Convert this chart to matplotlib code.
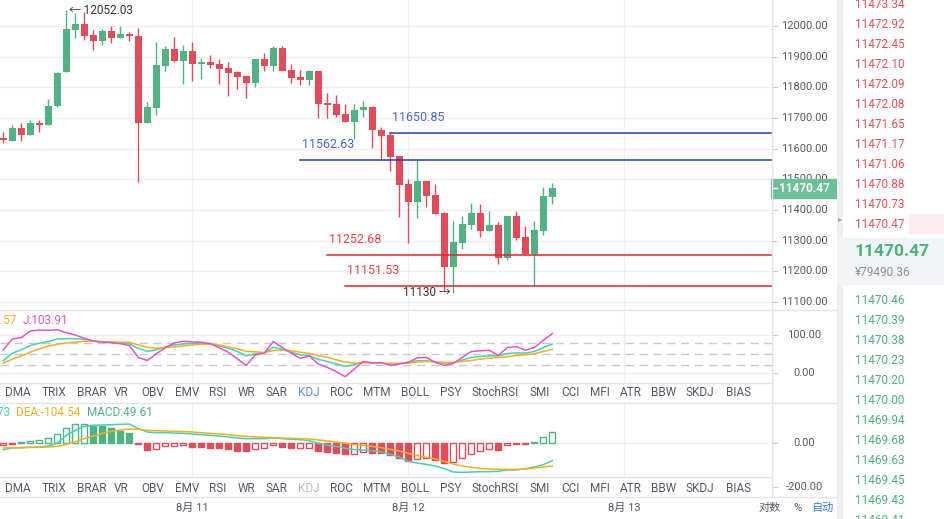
import numpy as np
import matplotlib
matplotlib.use("Agg")
import matplotlib.pyplot as plt
import matplotlib.transforms as mtransforms
from matplotlib.patches import Rectangle

plt.rcParams["font.family"] = ["Roboto", "Noto Sans CJK SC", "DejaVu Sans"]

# hourly candles
opens = [11636, 11626, 11667, 11645, 11683, 11678, 11738, 11849, 11988, 12006,
         11971, 11952, 11984, 11962, 11974, 11967, 11684, 11734, 11870, 11924,
         11887, 11918, 11877, 11882, 11876, 11863, 11850, 11837, 11815, 11892,
         11870, 11928, 11855, 11834, 11825, 11853, 11749, 11745, 11713, 11688,
         11726, 11736, 11661, 11643, 11576, 11484, 11427, 11495, 11448, 11390,
         11215, 11293, 11352, 11390, 11332, 11351, 11244, 11380, 11312, 11257,
         11332, 11443]
highs = [11655, 11676, 11683, 11692, 11693, 11762, 11850, 12052.03, 12043, 12045,
         11986, 11989, 12000, 12000, 11980, 11993, 11751, 11947, 11935, 11964,
         11937, 11949, 11896, 11905, 11892, 11882, 11854, 11837, 11892, 11911,
         11936, 11935, 11876, 11856, 11856, 11853, 11781, 11774, 11745, 11745,
         11754, 11738, 11670, 11650.85, 11576, 11500, 11562.63, 11495, 11485, 11392,
         11364, 11379, 11422, 11419, 11395, 11360, 11380, 11396, 11348, 11364,
         11476, 11489]
lows = [11617, 11624, 11626, 11645, 11653, 11678, 11737, 11849, 11962, 11954,
        11923, 11939, 11944, 11962, 11952, 11491, 11684, 11710, 11854, 11883,
        11810, 11821, 11828, 11864, 11812, 11773, 11793, 11766, 11802, 11854,
        11854, 11854, 11813, 11807, 11807, 11699, 11699, 11702, 11688, 11631,
        11702, 11601, 11563, 11526, 11376, 11291, 11372, 11408, 11387, 11135,
        11130, 11272, 11337, 11311, 11332, 11222, 11237, 11303, 11257, 11151.53,
        11317, 11418]
closes = [11627, 11667, 11645, 11682, 11678, 11738, 11848, 11990, 12006, 11968,
          11952, 11984, 11962, 11974, 11966, 11684, 11736, 11873, 11924, 11887,
          11918, 11877, 11882, 11874, 11861, 11848, 11835, 11815, 11892, 11870,
          11928, 11854, 11831, 11825, 11853, 11746, 11743, 11711, 11688, 11726,
          11735, 11660, 11642, 11573, 11482, 11427, 11495, 11446, 11387, 11215,
          11295, 11354, 11390, 11332, 11351, 11244, 11380, 11309, 11257, 11334,
          11445, 11470.47]

k_line = [32.2, 52.2, 60.9, 72.2, 78.3, 82.6, 89.6, 90.4, 90.4, 88.7,
          84.3, 81.7, 80.0, 78.3, 76.5, 65.2, 56.5, 60.9, 68.7, 73.9,
          76.5, 77.4, 78.3, 76.5, 71.3, 65.2, 56.5, 45.2, 50.4, 52.2,
          67.8, 62.6, 54.8, 47.8, 45.2, 35.7, 30.4, 23.5, 17.4, 21.7,
          28.7, 27.0, 26.1, 23.5, 25.2, 28.7, 32.2, 32.2, 28.7, 26.1,
          27.0, 33.9, 40.9, 43.5, 45.2, 45.2, 51.3, 53.0, 52.2, 56.5,
          67.0, 76.35]
d_line = [26.1, 36.5, 45.2, 54.8, 63.5, 71.3, 75.7, 79.1, 80.9, 83.5,
          83.5, 82.6, 81.7, 80.9, 80.9, 73.9, 67.8, 65.2, 67.0, 68.7,
          71.3, 73.9, 75.7, 75.7, 73.9, 68.7, 63.5, 57.4, 55.7, 53.9,
          59.1, 60.0, 58.3, 54.8, 51.3, 46.1, 40.9, 34.8, 28.7, 26.1,
          27.0, 27.0, 26.1, 25.2, 25.2, 26.1, 28.7, 30.4, 29.6, 27.8,
          27.8, 30.4, 33.0, 36.5, 39.1, 40.9, 42.6, 46.1, 47.8, 50.4,
          56.5, 62.57]
j_line = [60.9, 89.6, 93.0, 110.4, 113.0, 112.2, 113.9, 106.0, 100.0, 91.3,
          84.3, 80.9, 80.0, 77.4, 72.2, 40.9, 33.0, 50.4, 66.9, 79.1,
          83.5, 81.7, 80.9, 77.4, 66.1, 54.8, 37.4, 20.0, 47.8, 52.2,
          82.6, 67.0, 52.2, 38.3, 45.2, 23.5, 14.8, 3.5, -9.6, 10.4,
          30.4, 26.1, 27.8, 20.0, 23.5, 27.8, 40.0, 40.9, 27.8, 20.0,
          25.2, 40.9, 56.5, 58.3, 60.0, 46.1, 67.0, 69.6, 60.0, 67.0,
          86.1, 103.91]

dif = [-30.3, -22.7, -21.2, -19.7, -18.2, -13.6, 0.0, 34.8, 57.6, 75.8,
       80.3, 81.8, 83.3, 84.8, 86.4, 65.2, 50.0, 47.0, 47.0, 45.5,
       43.9, 40.9, 37.9, 34.8, 31.8, 27.3, 22.7, 19.7, 19.7, 19.7,
       22.7, 19.7, 16.7, 15.2, 10.6, -1.5, -9.1, -15.2, -24.2, -30.3,
       -31.8, -34.8, -40.9, -51.5, -63.6, -83.3, -90.9, -97.0, -104.5, -116.7,
       -131.8, -133.3, -131.8, -130.3, -130.3, -128.8, -122.7, -122.7, -116.7, -109.1,
       -98.5, -79.73]
dea = [-22.7, -21.2, -21.2, -19.7, -19.7, -18.2, -15.2, -6.1, 6.1, 19.7,
       31.8, 43.9, 53.0, 59.1, 63.6, 62.1, 57.6, 56.1, 54.5, 53.0,
       51.5, 50.0, 47.0, 43.9, 40.9, 37.9, 33.3, 30.3, 27.3, 25.8,
       24.2, 22.7, 21.2, 19.7, 18.2, 13.6, 9.1, 4.5, -1.5, -7.6,
       -10.6, -15.2, -21.2, -28.8, -36.4, -47.0, -56.1, -65.2, -72.7, -83.3,
       -95.5, -104.5, -110.6, -115.2, -118.2, -119.7, -119.7, -119.7, -118.2, -113.6,
       -109.1, -104.54]
macd_hist = [-10, -3, 5, 10, 15, 24, 42, 70, 88, 88,
             80, 77, 68, 55, 44, -5, -30, -26, -15, -15,
             -10, -18, -20, -23, -24, -27, -35, -36, -26, -21,
             -10, -20, -23, -23, -21, -36, -41, -45, -52, -48,
             -41, -44, -45, -53, -67, -82, -71, -70, -76, -91,
             -86, -68, -48, -38, -26, -32, -8, -5, -5, 5,
             29, 49.61]

levels = [11650.85, 11562.63, 11252.68, 11151.53]
level_start = [43, 33, 36, 38]
level_kind = ["blue", "blue", "red", "red"]

date_idx = [21, 45, 69]
date_labels = ["8月 11", "8月 12", "8月 13"]
price_ticks = [11100, 11200, 11300, 11400, 11500, 11600, 11700, 11800, 11900, 12000]

ask_prices = ["11473.34", "11472.92", "11472.45", "11472.10", "11472.09", "11472.08",
              "11471.65", "11471.17", "11471.06", "11470.88", "11470.73", "11470.47"]
bid_prices = ["11470.46", "11470.39", "11470.38", "11470.23", "11470.20", "11470.00",
              "11469.94", "11469.68", "11469.63", "11469.45", "11469.43", "11469.41"]
last_price = 11470.47
last_cny = "¥79490.36"

tabs = ["DMA", "TRIX", "BRAR", "VR", "OBV", "EMV", "RSI", "WR", "SAR", "KDJ", "ROC",
        "MTM", "BOLL", "PSY", "StochRSI", "SMI", "CCI", "MFI", "ATR", "BBW", "SKDJ", "BIAS"]
tab_x = [17.5, 53.7, 91.3, 121.3, 152.7, 187, 218, 246, 276, 308.5, 341,
         377, 415.3, 450.5, 495.3, 540, 570, 600, 631, 664, 700, 739]

GREEN = "#4fb384"
RED = "#e14b5a"
TEAL = "#3fd4b4"
ORANGE = "#f6ae1e"
MAGENTA = "#e653c9"
GRID = "#f0f0f4"
LINE = "#e3e4ea"
TXT = "#555a66"

W, H = 945, 519
fig = plt.figure(figsize=(W / 100, H / 100), dpi=100)
pix = mtransforms.Affine2D().scale(1 / W, -1 / H).translate(0, 1) + fig.transFigure
PLOT_R = 772
X0, DX = 3.3, 9.0


def add_panel(top, bottom, ylim):
    ax = fig.add_axes([0, 1 - bottom / H, PLOT_R / W, (bottom - top) / H])
    ax.set_xlim(-X0 / DX, (PLOT_R - X0) / DX)
    ax.set_ylim(*ylim)
    ax.set_axis_off()
    for i in date_idx:
        ax.axvline(i, color=GRID, lw=1, zorder=0)
    return ax


def right_label(ax, val, text):
    tr = ax.get_yaxis_transform()
    ax.text(804 / PLOT_R, val, text, transform=tr, ha="center", va="center",
            fontsize=8, color=TXT, clip_on=False)
    ax.plot([1.0, 777 / PLOT_R], [val, val], transform=tr, color="#c9ccd4",
            lw=0.8, clip_on=False)


x = np.arange(len(opens))
o, h, l, c = map(np.array, (opens, highs, lows, closes))

# ---- main candle chart
ax = add_panel(0, 310, (12000 - 284 / 0.3065, 12000 + 26 / 0.3065))
for p in price_ticks:
    ax.axhline(p, color=GRID, lw=1, zorder=0)
    right_label(ax, p, f"{p:.2f}")
col = np.where(c >= o, GREEN, RED)
ax.vlines(x, l, h, colors=col, lw=1, zorder=2)
ax.bar(x, np.maximum(np.abs(c - o), 2.5), bottom=np.minimum(o, c), width=0.72,
       color=col, lw=0, zorder=3)

xr = (PLOT_R - X0) / DX
for lv, st, kind in zip(levels, level_start, level_kind):
    lc = "#1f3fb8" if kind == "blue" else "#ec1f2c"
    tc = "#4a63d8" if kind == "blue" else "#e5434f"
    ax.plot([st, xr], [lv, lv], color=lc, lw=1.1, zorder=4)
    ax.annotate(f"{lv:.2f}", (st, lv), xytext=(2, 16), textcoords="offset pixels",
                ha="left", va="center", fontsize=9, color=tc)

imax = int(np.argmax(h))
imin = int(np.argmin(l))
ax.annotate(f"← {h[imax]:.2f}", (imax, h[imax]), xytext=(3, 0), textcoords="offset pixels",
            ha="left", va="center", fontsize=8.5, color="#333333")
ax.annotate(f"{l[imin]:.0f} →", (imin, l[imin]), xytext=(-3, 0), textcoords="offset pixels",
            ha="right", va="center", fontsize=8.5, color="#333333")

# last price tag on the axis
tr = ax.get_yaxis_transform()
ax.add_patch(Rectangle((1.0 - 1 / PLOT_R, last_price - 9.5 / 0.3065), 66 / PLOT_R, 19 / 0.3065,
                       transform=tr, color="#6dbf95", clip_on=False, zorder=6))
ax.plot([1.0 + 1 / PLOT_R, 777 / PLOT_R], [last_price, last_price], transform=tr,
        color="white", lw=1, clip_on=False, zorder=7)
ax.text(804 / PLOT_R, last_price, f"{last_price:.2f}", transform=tr, ha="center", va="center",
        fontsize=8.5, color="white", fontweight="bold", clip_on=False, zorder=7)

# ---- KDJ panel
ax1 = add_panel(310, 383, (-10 / 0.38, 63 / 0.38))
for v in (0, 100):
    ax1.axhline(v, color=GRID, lw=1, zorder=0)
    right_label(ax1, v, f"{v:.2f}")
for v in (20, 50, 80):
    ax1.axhline(v, color="#cacaca", lw=1, ls=(0, (6, 4)), zorder=1)
ax1.plot(x, k_line, color=TEAL, lw=1.1)
ax1.plot(x, d_line, color=ORANGE, lw=1.1)
ax1.plot(x, j_line, color=MAGENTA, lw=1.1)

# ---- MACD panel
ax2 = add_panel(403, 477, (-34 / 0.22, 40 / 0.22))
ax2.axhline(0, color=GRID, lw=1, zorder=0)
right_label(ax2, 0, "0.00")
right_label(ax2, -200, "-200.00")
hist = np.array(macd_hist, dtype=float)
rising = np.diff(hist, prepend=hist[0] - 1) >= 0
for xi, v, up in zip(x, hist, rising):
    cc = GREEN if v >= 0 else RED
    ax2.bar(xi, v, width=0.66, facecolor="white" if up else cc, edgecolor=cc,
            lw=1, zorder=2)
ax2.plot(x, dif, color=TEAL, lw=1.1, zorder=3)
ax2.plot(x, dea, color=ORANGE, lw=1.1, zorder=3)

# ---- legends
fig.text(16, 320, f"D:{d_line[-1]:.2f}", transform=pix, ha="right", va="center", fontsize=8.5, color=ORANGE)
fig.text(23, 320, f"J:{j_line[-1]:.2f}", transform=pix, ha="left", va="center", fontsize=8.5, color=MAGENTA)
fig.text(10, 412, f"DIF:{dif[-1]:.2f}", transform=pix, ha="right", va="center", fontsize=8.5, color=TEAL)
fig.text(16, 412, f"DEA:{dea[-1]:.2f}", transform=pix, ha="left", va="center", fontsize=8.5, color=ORANGE)
fig.text(87, 412, f"MACD:{macd_hist[-1]:.2f}", transform=pix, ha="left", va="center", fontsize=8.5, color=GREEN)

# ---- indicator tab rows
for row_y, active in ((393, "#5b8def"), (488, "#bdbdbd")):
    for name, tx in zip(tabs, tab_x):
        fig.text(tx, row_y, name, transform=pix, ha="center", va="center", fontsize=8.5,
                 color=active if name == "KDJ" else TXT)

# ---- separators
for y0, x1 in ((310, 837), (383, PLOT_R), (403, 837), (477, PLOT_R), (497, 837)):
    fig.add_artist(plt.Line2D([0, x1], [y0, y0], transform=pix, color=LINE, lw=1))
fig.add_artist(plt.Line2D([PLOT_R, PLOT_R], [0, 497], transform=pix, color=LINE, lw=1))

# ---- date axis
for i, lab in zip(date_idx, date_labels):
    fig.text((X0 + DX * i), 508, lab, transform=pix, ha="center", va="center", fontsize=8, color=TXT)
fig.text(770, 508, "对数", transform=pix, ha="center", va="center", fontsize=8, color=TXT)
fig.text(797, 508, "%", transform=pix, ha="center", va="center", fontsize=8, color=TXT)
fig.text(822, 508, "自动", transform=pix, ha="center", va="center", fontsize=8, color="#3b7de9")

# ---- order book
fig.add_artist(Rectangle((837, 0), 6, H, transform=pix, color="#eef0f3", lw=0))
fig.add_artist(Rectangle((837, 238), W - 837, 47, transform=pix, color="#f3f4f7", lw=0))
fig.add_artist(Rectangle((909, 214), 36, 20, transform=pix, color="#fdecee", lw=0))
fig.text(840, 219, "▸", transform=pix, ha="center", va="center", fontsize=6, color="#9a9ea8",
         family="DejaVu Sans")
for i, s in enumerate(ask_prices):
    fig.text(855, 4 + 20 * i, s, transform=pix, ha="left", va="center", fontsize=8.5, color="#e5505c")
for i, s in enumerate(bid_prices):
    fig.text(855, 300 + 20 * i, s, transform=pix, ha="left", va="center", fontsize=8.5, color="#4cb07f")
fig.text(855, 252, f"{last_price:.2f}", transform=pix, ha="left", va="center", fontsize=12.5,
         fontweight="bold", color="#4cb07f")
fig.text(855, 272, last_cny, transform=pix, ha="left", va="center", fontsize=8.5, color="#8a8f99")

fig.savefig("out.png", dpi=100, facecolor="white")
